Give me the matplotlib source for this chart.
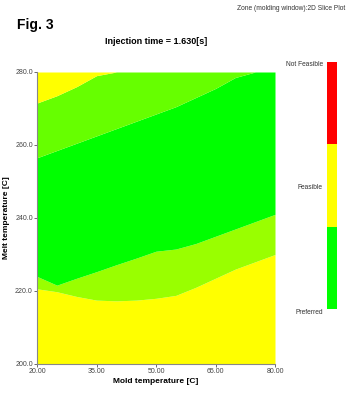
import matplotlib
matplotlib.use('Agg')
import matplotlib.pyplot as plt
from matplotlib.colors import ListedColormap, BoundaryNorm
from matplotlib.cm import ScalarMappable

plt.rcParams['font.family'] = ['Liberation Sans', 'DejaVu Sans']

# mold temperature samples [C]
mold_t = [20, 25, 30, 35, 40, 45, 50, 55, 60, 65, 70, 75, 80]
# melt temperature of the zone borders at each mold temperature [C]
top_yellow = [271.5, 273.5, 276.0, 279.0, 280, 280, 280, 280, 280, 280, 280, 280, 280]
top_green = [256.5, 258.5, 260.5, 262.5, 264.5, 266.5, 268.5, 270.5, 273.0, 275.5, 278.5, 280, 280]
low_green = [224.0, 221.6, 223.5, 225.3, 227.2, 229.0, 230.9, 231.5, 233.0, 235.0, 237.0, 239.0, 241.0]
low_yellow = [220.6, 219.8, 218.5, 217.5, 217.3, 217.5, 218.0, 218.8, 221.0, 223.5, 226.0, 228.0, 230.0]

x_ticks = [20, 35, 50, 65, 80]
y_ticks = [200, 220, 240, 260, 280]
zone_names = ['Preferred', 'Feasible', 'Not Feasible']
zone_colors = ['#00ff00', '#ffff00', '#ff0000']

fig = plt.figure(figsize=(3.47, 3.95), dpi=100)
ax = fig.add_axes([37 / 347, 1 - 364 / 395, 238 / 347, 292 / 395])

ax.fill_between(mold_t, 200, low_yellow, color='#ffff00', lw=0)
ax.fill_between(mold_t, low_yellow, low_green, color='#99ff00', lw=0)
ax.fill_between(mold_t, low_green, top_green, color='#00ff00', lw=0)
ax.fill_between(mold_t, top_green, top_yellow, color='#66ff00', lw=0)
ax.fill_between(mold_t, top_yellow, 280, color='#ffff00', lw=0)

ax.set_xlim(20, 80)
ax.set_ylim(200, 280)
ax.set_xticks(x_ticks)
ax.set_yticks(y_ticks)
ax.set_xticklabels(['%.2f' % v for v in x_ticks])
ax.set_yticklabels(['%.1f' % v for v in y_ticks])
ax.tick_params(labelsize=5, length=2, width=0.6, pad=1, colors='#555555', labelcolor='#444444')
for s in ['top', 'right']:
    ax.spines[s].set_visible(False)
for s in ['left', 'bottom']:
    ax.spines[s].set_color('#888888')
    ax.spines[s].set_linewidth(0.8)

ax.set_xlabel('Mold temperature [C]', fontsize=6, fontweight='bold', labelpad=2)
ax.set_ylabel('Melt temperature [C]', fontsize=6, fontweight='bold', labelpad=4)

fig.text(17 / 347, 1 - 25 / 395, 'Fig. 3', fontsize=10, fontweight='bold', va='center')
fig.text(156 / 347, 1 - 42 / 395, 'Injection time = 1.630[s]', fontsize=6.5,
         fontweight='bold', ha='center', va='center')
fig.text(345 / 347, 1 - 8 / 395, 'Zone (molding window):2D Slice Plot', fontsize=4.8,
         ha='right', va='center', color='#333333')

# zone color bar
cax = fig.add_axes([327 / 347, 1 - 309 / 395, 10 / 347, 247 / 395])
cmap = ListedColormap(zone_colors)
norm = BoundaryNorm([0, 1, 2, 3], cmap.N)
cb = fig.colorbar(ScalarMappable(norm=norm, cmap=cmap), cax=cax)
cb.outline.set_visible(False)
cb.set_ticks([])
cb.minorticks_off()
cax.tick_params(length=0, which='both')
label_y = [312, 187, 65]
for name, yy in zip(zone_names, label_y):
    fig.text(323 / 347, 1 - yy / 395, name, fontsize=4.8, ha='right', va='center',
             color='#333333')

fig.savefig('out.png', dpi=100)
